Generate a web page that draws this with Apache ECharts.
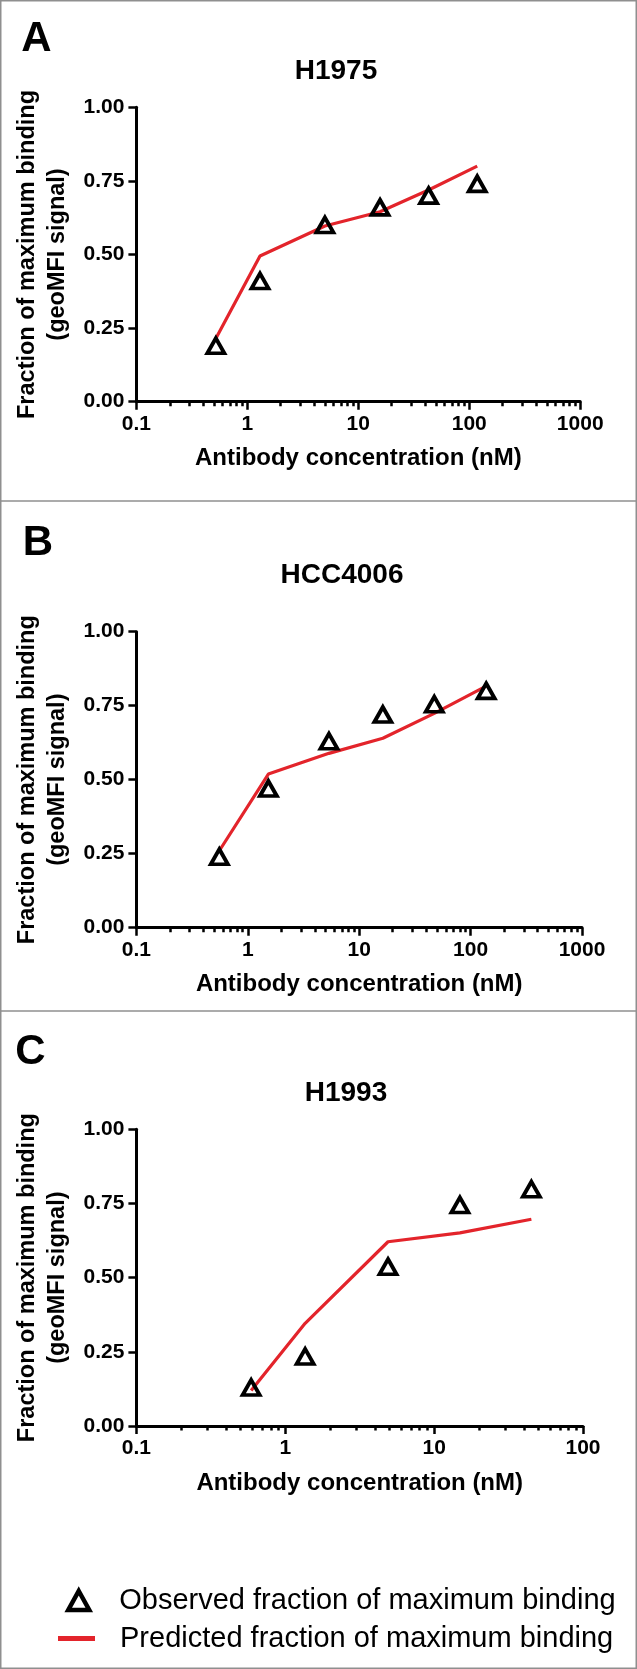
<!DOCTYPE html>
<html>
<head>
<meta charset="utf-8">
<script src="https://cdn.jsdelivr.net/npm/echarts@6/dist/echarts.min.js"></script>
<style>
html,body{margin:0;padding:0;background:#fff;}
#chart{width:637px;height:1669px;}
</style>
</head>
<body>
<div id="chart"></div>
<script>
// ---------- data ----------
const panelLetters = ['A', 'B', 'C'];
const panelTitles = ['H1975', 'HCC4006', 'H1993'];

const concA = [0.52, 1.3, 5.0, 15.7, 43, 118];
const observedA = [0.19, 0.41, 0.60, 0.66, 0.70, 0.74];
const predictedA = [0.215, 0.495, 0.597, 0.645, 0.719, 0.80];

const concB = [0.555, 1.53, 5.35, 16.3, 47.2, 138];
const observedB = [0.24, 0.47, 0.63, 0.72, 0.755, 0.80];
const predictedB = [0.26, 0.519, 0.589, 0.64, 0.724, 0.816];

const concC = [0.59, 1.36, 4.9, 14.9, 45];
const observedC = [0.13, 0.234, 0.537, 0.745, 0.798];
const predictedC = [0.12, 0.346, 0.621, 0.651, 0.697];

const xMaxAB = 1000;
const xMaxC = 100;
const xMin = 0.1;
const yTicks = [0, 0.25, 0.5, 0.75, 1.0];

const xTitle = 'Antibody concentration (nM)';
const yTitle = 'Fraction of maximum binding\n(geoMFI signal)';
const obsName = 'Observed fraction of maximum binding';
const predName = 'Predicted fraction of maximum binding';

// ---------- helpers ----------
function minorTicks(lo, hi) {
  const out = [];
  for (let d = lo; d < hi - 1e-9; d *= 10) {
    for (let k = 2; k <= 9; k++) out.push(+(d * k).toPrecision(6));
  }
  return out;
}
function pairs(xs, ys) { return xs.map((x, i) => [x, ys[i]]); }

const FONT = '"Liberation Sans", Arial, sans-serif';
const RED = '#e3242b';

const grids = [
  { left: 136.4, top: 107.3, width: 443.8, height: 294.4 },
  { left: 136.4, top: 631.7, width: 445.6, height: 296 },
  { left: 136.4, top: 1129.3, width: 446.6, height: 296.7 }
];
const xMaxes = [xMaxAB, xMaxAB, xMaxC];
const concs = [concA, concB, concC];
const obs = [observedA, observedB, observedC];
const preds = [predictedA, predictedB, predictedC];

const xAxes = [], yAxes = [], series = [];
grids.forEach((g, i) => {
  // main log axis with labels and major ticks
  xAxes.push({
    type: 'log', logBase: 10, gridIndex: i, position: 'bottom', min: xMin, max: xMaxes[i],
    axisLine: { show: true, lineStyle: { color: '#000', width: 3 } },
    axisTick: { show: true, length: 8, lineStyle: { color: '#000', width: 2.5 } },
    axisLabel: { fontFamily: FONT, fontSize: 21, fontWeight: 'bold', color: '#000', margin: 12,
      formatter: v => String(+(+v).toPrecision(3)) },
    splitLine: { show: false },
    name: xTitle, nameLocation: 'middle', nameGap: 45,
    nameTextStyle: { fontFamily: FONT, fontSize: 24, fontWeight: 'bold', color: '#000' }
  });
  // overlay axis for minor ticks
  xAxes.push({
    type: 'log', logBase: 10, gridIndex: i, position: 'bottom', offset: 0, min: xMin, max: xMaxes[i],
    axisLine: { show: false },
    axisTick: { show: true, length: 4.5, customValues: minorTicks(xMin, xMaxes[i]),
      lineStyle: { color: '#000', width: 2.5 } },
    axisLabel: { show: false },
    splitLine: { show: false }
  });
  yAxes.push({
    type: 'value', gridIndex: i, min: 0, max: 1, interval: 0.25,
    axisLine: { show: true, lineStyle: { color: '#000', width: 3 } },
    axisTick: { show: true, length: 8, lineStyle: { color: '#000', width: 2.5 } },
    axisLabel: { fontFamily: FONT, fontSize: 21, fontWeight: 'bold', color: '#000', margin: 12,
      formatter: v => (+v).toFixed(2) },
    splitLine: { show: false },
    name: yTitle, nameLocation: 'middle', nameRotate: 90, nameGap: 58,
    nameTextStyle: { fontFamily: FONT, fontSize: 23.5, fontWeight: 'bold', color: '#000', lineHeight: 30 }
  });
  series.push({
    name: predName, type: 'line', xAxisIndex: i * 2, yAxisIndex: i,
    data: pairs(concs[i], preds[i]), showSymbol: false, symbol: 'none',
    lineStyle: { color: RED, width: 3.2 }, itemStyle: { color: RED },
    z: 2, animation: false
  });
  series.push({
    name: obsName, type: 'scatter', xAxisIndex: i * 2, yAxisIndex: i,
    data: pairs(concs[i], obs[i]), symbol: 'triangle', symbolSize: [17, 15],
    itemStyle: { color: 'rgba(0,0,0,0)', borderColor: '#000', borderWidth: 3.8, opacity: 1 },
    z: 3, animation: false
  });
});

const letterPos = [[36.5, 18], [38, 522], [30.5, 1031]];
const titlePos = [[336, 57], [342, 561], [346, 1079]];
const titles = [];
panelLetters.forEach((l, i) => {
  titles.push({ text: l, left: letterPos[i][0], top: letterPos[i][1], textAlign: 'center', padding: 0,
    textStyle: { fontFamily: FONT, fontSize: 42, fontWeight: 'bold', color: '#000' } });
  titles.push({ text: panelTitles[i], left: titlePos[i][0], top: titlePos[i][1], textAlign: 'center', padding: 0,
    textStyle: { fontFamily: FONT, fontSize: 28, fontWeight: 'bold', color: '#000' } });
});

const chart = echarts.init(document.getElementById('chart'), null, { renderer: 'canvas' });
chart.setOption({
  backgroundColor: '#fff',
  animation: false,
  title: titles,
  grid: grids,
  xAxis: xAxes,
  yAxis: yAxes,
  series: series,
  legend: [
    { data: [{ name: obsName, icon: 'triangle',
        itemStyle: { color: 'rgba(0,0,0,0)', borderColor: '#000', borderWidth: 4.5 } }],
      left: 66, top: 1586, padding: 0, itemWidth: 21, itemHeight: 19, symbolKeepAspect: false,
      selectedMode: false,
      textStyle: { fontFamily: FONT, fontSize: 29, color: '#000', padding: [0, 0, 0, 25] } },
    { data: [{ name: predName, icon: 'rect', itemStyle: { color: RED } }],
      left: 58, top: 1624, padding: 0, itemWidth: 37, itemHeight: 5,
      selectedMode: false,
      textStyle: { fontFamily: FONT, fontSize: 29, color: '#000', padding: [0, 0, 0, 20] } }
  ],
  graphic: [
    { type: 'rect', shape: { x: 0.75, y: 0.75, width: 635.5, height: 1667.5 },
      style: { fill: null, stroke: '#8f8f8f', lineWidth: 1.5 }, silent: true },
    { type: 'line', shape: { x1: 0, y1: 501, x2: 637, y2: 501 },
      style: { stroke: '#8f8f8f', lineWidth: 1.5 }, silent: true },
    { type: 'line', shape: { x1: 0, y1: 1011, x2: 637, y2: 1011 },
      style: { stroke: '#8f8f8f', lineWidth: 1.5 }, silent: true }
  ]
});
</script>
</body>
</html>
